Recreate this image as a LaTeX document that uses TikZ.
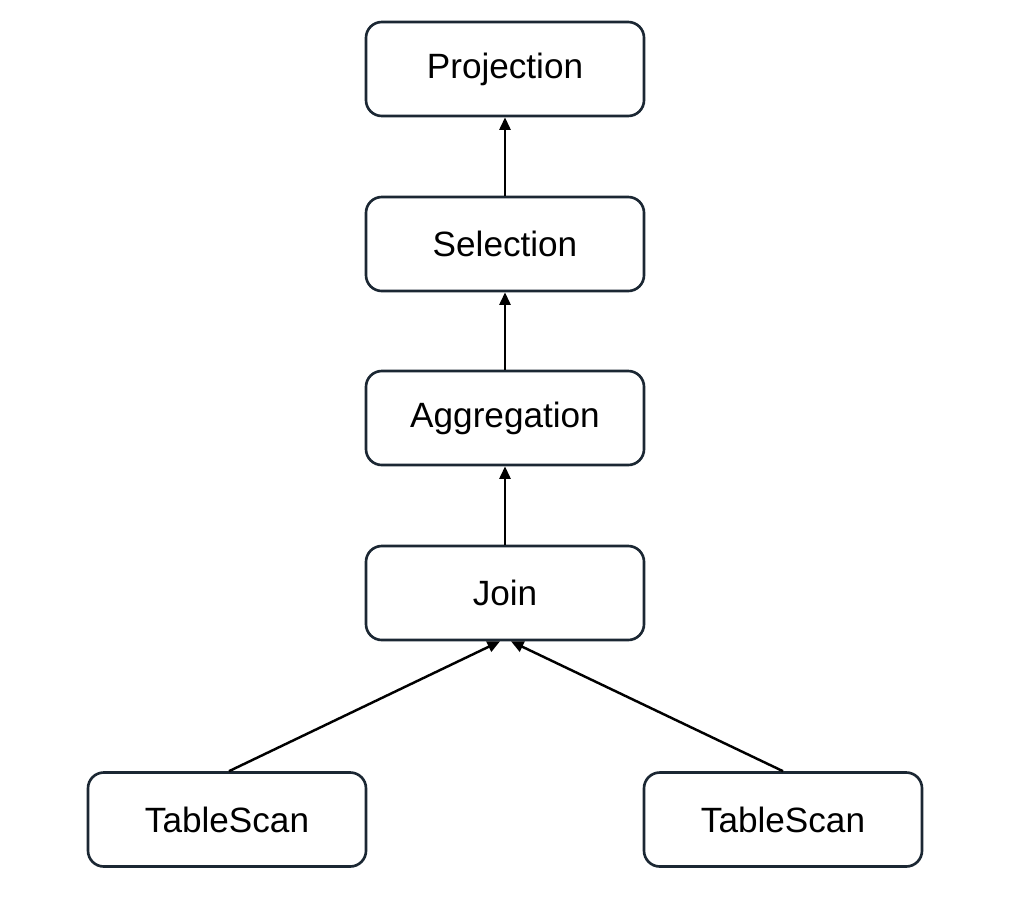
\documentclass[tikz,border=0pt]{standalone}
\usepackage{fontspec}
\setmainfont{Liberation Sans}
\usepackage{xcolor}
\usepackage{tikz}
\usetikzlibrary{arrows.meta, positioning}
\definecolor{planborder}{HTML}{1B2733}
\tikzset{
  opnode/.style={draw=planborder, fill=white, line width=1.5pt, rounded corners=9pt, minimum width=5.56cm, minimum height=1.88cm, align=center, font=\fontsize{20}{24}\selectfont},
  flowline/.style={-{Triangle[length=2.5mm, width=2.2mm]}, line width=1.4pt, draw=black}
}

\begin{document}
\begin{tikzpicture}
  \useasboundingbox (0,0) rectangle (20.56,-17.92);

  \node[opnode] at (10.10,-1.38) (proj) {Projection};
  \node[opnode] at (10.10,-4.88) (sel) {Selection};
  \node[opnode] at (10.10,-8.36) (agg) {Aggregation};
  \node[opnode] at (10.10,-11.86) (join) {Join};
  \node[opnode] at (4.54,-16.39) (scanl) {TableScan};
  \node[opnode] at (15.66,-16.39) (scanr) {TableScan};

  \draw[flowline] (sel.north) -- (proj.south);
  \draw[flowline] (agg.north) -- (sel.south);
  \draw[flowline] (join.north) -- (agg.south);
  \draw[flowline] ([xshift=0.04cm]scanl.north) -- ([xshift=-0.1cm]join.south);
  \draw[flowline] (scanr.north) -- ([xshift=0.12cm]join.south);
\end{tikzpicture}
\end{document}
